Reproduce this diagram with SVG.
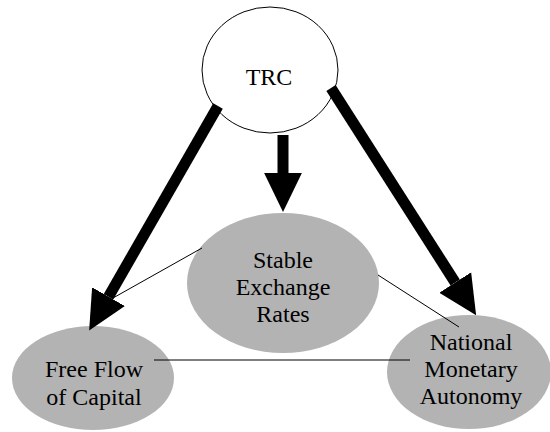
<svg xmlns="http://www.w3.org/2000/svg" width="550" height="432" viewBox="0 0 550 432">
  <style>
    .goal { fill: #b3b3b3; stroke: none; }
    .root { fill: #ffffff; stroke: #000000; stroke-width: 1; }
    .label { font-family: 'Liberation Serif', 'Times New Roman', 'DejaVu Serif', serif; font-size: 24px; fill: #000000; text-anchor: middle; }
    .link { stroke: #000000; stroke-width: 1; fill: none; }
    .force { stroke: #000000; stroke-width: 11; fill: none; marker-end: url(#head); }
  </style>
  <defs>
    <!-- filled triangular head for the thick TRC arrows -->
    <marker id="head" markerUnits="userSpaceOnUse" markerWidth="40" markerHeight="40" viewBox="0 -18 36 36" refX="0" refY="0" orient="auto">
      <path d="M0,-17 L35,0 L0,17 Z" fill="#000000"/>
    </marker>
  </defs>

  <!-- goal nodes -->
  <g id="stable-exchange-rates">
    <ellipse class="goal" cx="283" cy="283" rx="96" ry="70"/>
    <text class="label" font-family="Liberation Serif, Times New Roman, serif" x="283" y="268">Stable</text>
    <text class="label" font-family="Liberation Serif, Times New Roman, serif" x="283" y="295">Exchange</text>
    <text class="label" font-family="Liberation Serif, Times New Roman, serif" x="283" y="322">Rates</text>
  </g>
  <g id="free-flow-of-capital">
    <ellipse class="goal" cx="93" cy="378" rx="81" ry="52"/>
    <text class="label" font-family="Liberation Serif, Times New Roman, serif" x="94" y="377">Free Flow</text>
    <text class="label" font-family="Liberation Serif, Times New Roman, serif" x="94" y="405">of Capital</text>
  </g>
  <g id="national-monetary-autonomy">
    <ellipse class="goal" cx="469" cy="372" rx="82" ry="57"/>
    <text class="label" font-family="Liberation Serif, Times New Roman, serif" x="471" y="350">National</text>
    <text class="label" font-family="Liberation Serif, Times New Roman, serif" x="471" y="377">Monetary</text>
    <text class="label" font-family="Liberation Serif, Times New Roman, serif" x="471" y="404">Autonomy</text>
  </g>

  <!-- TRC node -->
  <g id="trc">
    <ellipse class="root" cx="270" cy="70" rx="68" ry="63"/>
    <text class="label" font-family="Liberation Serif, Times New Roman, serif" x="269" y="85" font-size="26">TRC</text>
  </g>

  <!-- connectors -->
  <g id="connectors">
    <line class="link" x1="202" y1="248" x2="113" y2="298"/>
    <line class="link" x1="378" y1="275" x2="459" y2="327"/>
    <line class="link" x1="154" y1="360" x2="410" y2="360"/>
    <line class="force" x1="218" y1="106" x2="108.5" y2="296.7"/>
    <line class="force" x1="283" y1="135" x2="283" y2="173"/>
    <line class="force" x1="331" y1="88" x2="455.2" y2="282.5"/>
  </g>
</svg>
